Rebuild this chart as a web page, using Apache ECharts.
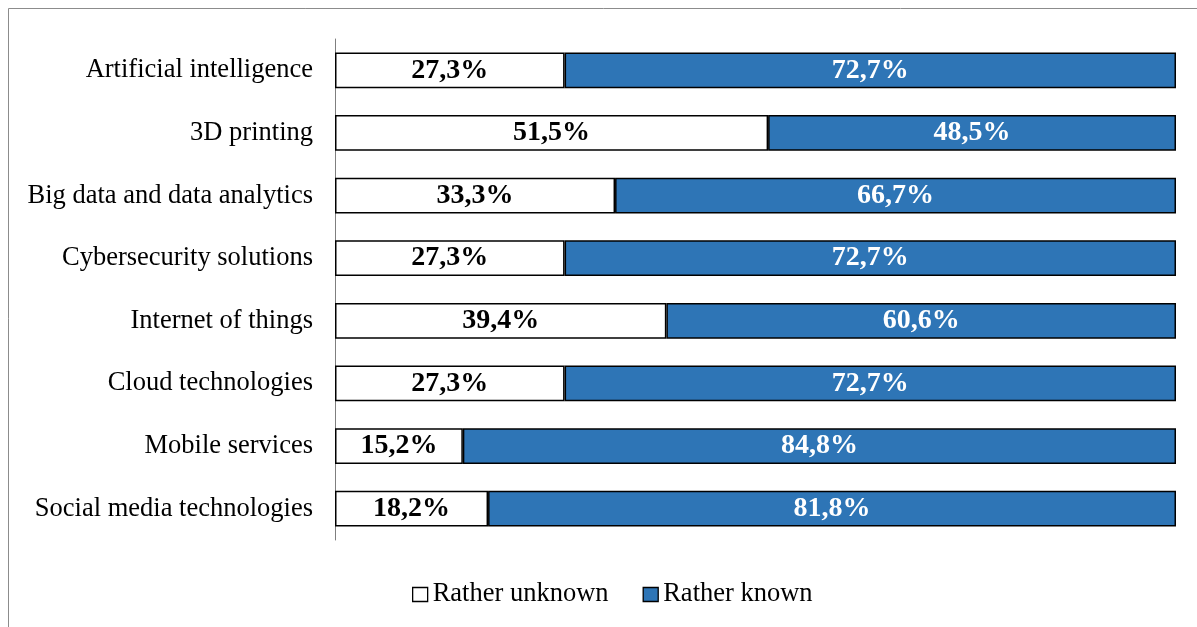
<!DOCTYPE html>
<html>
<head>
<meta charset="utf-8">
<script src="https://cdn.jsdelivr.net/npm/echarts@6/dist/echarts.min.js"></script>
<style>
  html, body { margin: 0; padding: 0; background: #fff; overflow: hidden; }
  #chart { width: 1197px; height: 627px; }
</style>
</head>
<body>
<div id="chart"></div>
<script>
// Categories listed bottom-to-top (y axis starts at the bottom)
const categories = [
  'Social media technologies',
  'Mobile services',
  'Cloud technologies',
  'Internet of things',
  'Cybersecurity solutions',
  'Big data and data analytics',
  '3D printing',
  'Artificial intelligence'
];
const ratherUnknown = [18.2, 15.2, 27.3, 39.4, 27.3, 33.3, 51.5, 27.3];
const ratherKnown   = [81.8, 84.8, 72.7, 60.6, 72.7, 66.7, 48.5, 72.7];
const seriesNames = ['Rather unknown', 'Rather known'];

const FONT = '"Liberation Serif", "Times New Roman", serif';
const pct = p => p.value.toFixed(1).replace('.', ',') + '%';

const chart = echarts.init(document.getElementById('chart'), null, { renderer: 'canvas' });
chart.setOption({
  animation: false,
  backgroundColor: '#fff',
  textStyle: { fontFamily: FONT },
  graphic: [{
    type: 'polyline',
    shape: { points: [[8.5, 640], [8.5, 8.5], [1300, 8.5]] },
    style: { fill: 'none', stroke: '#8c8c8c', lineWidth: 1 },
    silent: true
  }],
  grid: { left: 335, right: 21, top: 39, bottom: 87, containLabel: false },
  xAxis: {
    type: 'value', min: 0, max: 100,
    show: false
  },
  yAxis: {
    type: 'category',
    data: categories,
    axisLine: { show: true, lineStyle: { color: '#7f7f7f', width: 1 } },
    axisTick: { show: false },
    axisLabel: { color: '#000', fontSize: 26.5, fontFamily: FONT, margin: 22, padding: [3, 0, 0, 0] }
  },
  legend: {
    top: 576, left: 407,
    itemWidth: 15, itemHeight: 14, itemGap: 34,
    textStyle: { fontSize: 26.5, fontFamily: FONT, color: '#000' },
    data: [
      { name: seriesNames[0], icon: 'rect', itemStyle: { color: '#fff', borderColor: '#000', borderWidth: 1.3 } },
      { name: seriesNames[1], icon: 'rect', itemStyle: { color: '#2E75B6', borderColor: '#000', borderWidth: 1.3 } }
    ]
  },
  series: [
    {
      name: seriesNames[0], type: 'bar', stack: 'total', barWidth: '57%',
      data: ratherUnknown,
      itemStyle: { color: '#fff', borderColor: '#000', borderWidth: 1.5 },
      label: { show: true, position: 'inside', formatter: pct, color: '#000',
               fontSize: 28, fontWeight: 'bold', fontFamily: FONT, padding: [2, 0, 0, 0] }
    },
    {
      name: seriesNames[1], type: 'bar', stack: 'total', barWidth: '57%',
      data: ratherKnown,
      itemStyle: { color: '#2E75B6', borderColor: '#000', borderWidth: 1.5 },
      label: { show: true, position: 'inside', formatter: pct, color: '#fff',
               fontSize: 28, fontWeight: 'bold', fontFamily: FONT, padding: [2, 0, 0, 0] }
    }
  ]
});
</script>
</body>
</html>
